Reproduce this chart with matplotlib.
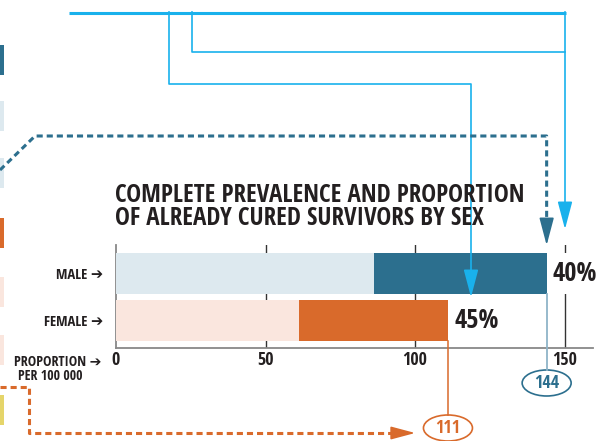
import matplotlib
matplotlib.use("Agg")
import matplotlib.pyplot as plt
from matplotlib.patches import Ellipse, Rectangle

# data
sexes = ["FEMALE", "MALE"]
prevalence = [111, 144]          # per 100 000
cured_pct = [45, 40]             # % already cured
ticks = [0, 50, 100, 150]

dark = ["#d96a2b", "#2c6f8e"]
light = ["#fae6de", "#dde9ef"]
blue = "#19b1ec"
txt = "#231f20"

plt.rcParams['font.family'] = ['Open Sans Condensed', 'DejaVu Sans']

W, H = 608, 441
fig = plt.figure(figsize=(W / 100, H / 100), dpi=100)
ax = fig.add_axes([116 / W, 1 - 348 / H, (593 - 116) / W, (348 - 245) / H])
ax.set_xlim(0, 159.5)
ax.set_ylim(-0.585, 1.606)

ypos = list(range(len(sexes)))
for y, p, pct, dc, lc in zip(ypos, prevalence, cured_pct, dark, light):
    cured = p * pct / 100.0
    rest = p - cured
    ax.barh(y, rest, height=0.872, color=lc, zorder=3)
    ax.barh(y, cured, left=rest, height=0.872, color=dc, zorder=3)
    ax.annotate(f"{pct}%", xy=(p, y), xytext=(4.5, 0), textcoords="offset points",
                va="center", ha="left", fontsize=19, fontweight="bold", color=txt,
                zorder=2, bbox=dict(boxstyle="square,pad=0.25", fc="white", ec="none"))

# gridlines
for t in ticks[1:]:
    ax.axvline(t, color="#333333", lw=1, zorder=1)

ax.set_xticks(ticks)
ax.set_xticklabels([str(t) for t in ticks], fontsize=13, color=txt)
ax.tick_params(axis="x", length=0, pad=2)
ax.set_yticks(ypos)
ax.set_yticklabels([s + " \u2794" for s in sexes], fontsize=10.5, fontweight="bold", color=txt)
ax.tick_params(axis="y", length=0, pad=9)
for s in ["top", "right"]:
    ax.spines[s].set_visible(False)
for s in ["left", "bottom"]:
    ax.spines[s].set_color("#888888")
    ax.spines[s].set_linewidth(1.3)

# overlay in pixel coordinates for connectors / decorations
ov = fig.add_axes([0, 0, 1, 1])
ov.set_xlim(0, W)
ov.set_ylim(H, 0)
ov.axis("off")
ov.set_zorder(5)


def vx(v):
    return ax.transData.transform((v, 0))[0]


def vy(v):
    return H - ax.transData.transform((0, v))[1]


ov.text(115, 207, "COMPLETE PREVALENCE AND PROPORTION\nOF ALREADY CURED SURVIVORS BY SEX",
        fontsize=18, fontweight="bold", color=txt, va="center", ha="left", linespacing=0.9)

ov.text(101, 362, "PROPORTION \u2794", fontsize=10.2, fontweight="bold", color=txt,
        ha="right", va="center")
ov.text(50, 376, "PER 100 000", fontsize=10, fontweight="bold", color=txt,
        ha="center", va="center")

# edge blocks from the neighbouring panel
blocks = [(45, "#2c6f8e"), (101, "#dde9ef"), (158, "#dde9ef"), (218, "#d96a2b"),
          (277, "#fae6de"), (335, "#fae6de"), (395, "#e5d56a")]
for top, c in blocks:
    ov.add_patch(Rectangle((0, top), 3.5, 30, color=c, lw=0))

# blue connectors
ov.plot([69, 566], [12.5, 12.5], color=blue, lw=2.2, solid_capstyle="butt")
ov.plot([192, 192, 565], [12, 52, 52], color=blue, lw=1.2)
ov.plot([169, 169, 471, 471], [12, 84, 84, 280], color=blue, lw=1.2)
ov.plot([565, 565], [12, 215], color=blue, lw=1.2)
head = dict(arrowstyle="-|>,head_length=1.7,head_width=0.45", mutation_scale=10, lw=1.2)
ov.annotate("", xy=(565, 232), xytext=(565, 205), arrowprops=dict(color=blue, **head))
ov.annotate("", xy=(471, 300), xytext=(471, 272), arrowprops=dict(color=blue, **head))

# teal dashed connector to male total
xm = vx(prevalence[1])
ov.plot([0, 35, xm, xm], [170, 136, 136, 228], color=dark[1], lw=2.2, dashes=(2.0, 1.3))
ov.annotate("", xy=(xm, 248), xytext=(xm, 222), arrowprops=dict(color=dark[1], **head))

# orange dashed connector to female total
xf = vx(prevalence[0])
ov.plot([0, 29, 29, 402], [387, 387, 433, 433], color=dark[0], lw=2.2, dashes=(2.0, 1.3))
ov.annotate("", xy=(418, 433), xytext=(398, 433),
            arrowprops=dict(color=dark[0], arrowstyle="-|>,head_length=1.5,head_width=0.4",
                            mutation_scale=10, lw=1.2))

# value callouts
ov.plot([xm, xm], [vy(1 - 0.436), 370], color="#8fb4c8", lw=1.3)
ov.add_patch(Ellipse((xm, 383), 49, 26, fc="white", ec=dark[1], lw=1.2))
ov.text(xm, 383, str(prevalence[1]), color=dark[1], fontsize=13, fontweight="bold",
        ha="center", va="center")
ov.plot([xf, xf], [vy(0 - 0.436), 415], color=dark[0], lw=1.1)
ov.add_patch(Ellipse((xf, 428), 49, 26, fc="white", ec=dark[0], lw=1.2))
ov.text(xf, 428, str(prevalence[0]), color=dark[0], fontsize=13, fontweight="bold",
        ha="center", va="center")

fig.savefig("out.png", dpi=100)
